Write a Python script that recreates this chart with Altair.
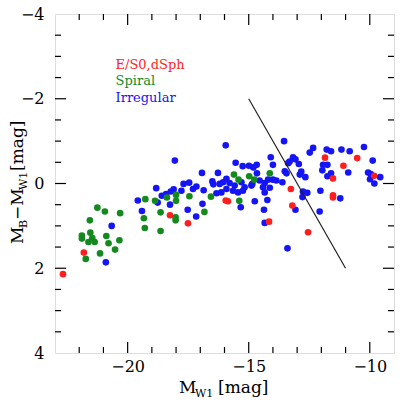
import altair as alt
import pandas as pd

# ---- data ----
red_x = [-22.67, -21.81, -18.25, -17.51, -15.95, -15.86, -14.16, -13.26, -13.20, -12.55,
         -11.85, -10.52, -11.09, -11.52, -9.82, -11.52, -11.52]
red_y = [2.14, 1.63, 0.75, 0.94, 0.40, 0.42, 0.90, 0.13, 0.52, 1.15,
         -0.61, -0.60, -0.42, -0.12, -0.18, 0.28, 0.33]

green_x = [-21.25, -20.94, -20.31, -21.56, -21.89, -21.89, -21.54, -21.62, -21.46, -21.36,
           -20.88, -20.79, -20.34, -20.52, -21.14, -21.73, -19.27, -18.87, -18.38, -18.00,
           -18.00, -17.45, -19.33, -19.29, -18.64, -18.02, -18.02, -18.64, -16.56, -16.83,
           -15.61, -15.42, -14.98, -14.77, -14.13, -15.39]
green_y = [0.57, 0.66, 0.70, 0.87, 1.23, 1.30, 1.16, 1.38, 1.29, 1.38,
           1.24, 1.41, 1.34, 1.56, 1.65, 1.78, 0.37, 0.41, 0.33, 0.27,
           0.41, 0.30, 0.82, 1.05, 0.68, 0.80, 0.87, 1.12, 0.31, 0.67,
           -0.21, -0.09, -0.17, -0.09, -0.24, 0.41]

blue_x = [-19.58, -20.66, -20.90, -18.05, -16.93, -16.27, -18.82, -19.41, -18.76, -18.59,
          -18.41, -18.22, -18.10, -18.25, -17.69, -17.46, -17.16, -17.30, -17.78, -16.86,
          -16.50, -16.46, -16.33, -17.52, -16.91, -17.17, -15.95, -15.54, -15.25, -14.99,
          -14.81, -14.67, -14.09, -14.00, -15.92, -16.06, -15.79, -16.20, -15.58, -15.30,
          -15.17, -15.92, -15.65, -15.44, -16.13, -15.24, -14.89, -15.33, -14.75, -13.54,
          -12.34, -12.48, -13.17, -13.07, -13.31, -13.37, -12.93, -13.51, -13.44, -12.83,
          -12.89, -12.66, -14.66, -14.55, -14.34, -14.41, -14.20, -14.00, -13.86, -13.61,
          -14.13, -14.34, -14.85, -12.76, -12.58, -12.78, -14.23, -13.07, -14.37, -14.34,
          -13.40, -10.24, -11.78, -11.60, -11.17, -10.83, -9.88, -11.93, -11.75, -11.96,
          -11.60, -10.89, -11.75, -10.07, -9.96, -9.57, -9.99, -9.81, -12.04, -11.22,
          -12.07]
blue_y = [0.40, 1.00, 1.86, -0.54, -0.25, -0.25, 0.11, 0.65, 0.45, 0.29,
          0.25, 0.19, 0.14, 0.50, 0.01, -0.02, 0.07, 0.13, 0.17, 0.16,
          -0.05, 0.02, 0.23, 0.62, 0.48, 0.78, -0.90, -0.49, -0.41, -0.42,
          -0.38, -0.44, -0.62, -0.44, -0.11, -0.03, -0.01, 0.01, 0.05, -0.03,
          0.09, 0.13, 0.17, 0.21, 0.21, 0.17, 0.05, 0.56, 0.42, -1.00,
          -0.84, -0.73, -0.62, -0.57, -0.52, -0.48, -0.46, -0.29, -0.24, -0.28,
          -0.21, -0.15, -0.24, -0.07, -0.01, 0.09, -0.09, -0.09, -0.07, -0.03,
          0.10, 0.21, 0.01, 0.19, 0.22, 0.32, 0.39, 0.62, 0.62, 0.93,
          1.53, -0.86, -0.80, -0.76, -0.80, -0.76, -0.54, -0.44, -0.44, -0.31,
          -0.24, -0.26, -0.17, -0.26, -0.22, -0.15, -0.10, 0.00, 0.17, 0.35,
          0.66]

line_x = [-15.0, -11.0]
line_y = [-2.0, 2.0]

legend_labels = ["E/S0,dSph", "Spiral", "Irregular"]
legend_x = [-20.5, -20.5, -20.5]
legend_y = [-2.70, -2.32, -1.93]

x_major = [-20, -15, -10]
x_minor = [v for v in range(-22, -9) if v % 5 != 0]
y_major = [-2, 0, 2]
y_minor = [v / 2 for v in range(-7, 8) if v % 4 != 0]

RED, GREEN, BLUE = "#ff1e1e", "#148a1e", "#1414f5"
W, H = 339, 339
FONT = "DejaVu Serif"

pts = pd.DataFrame(
    {"x": blue_x + green_x + red_x,
     "y": blue_y + green_y + red_y,
     "cls": ["Irregular"] * len(blue_x) + ["Spiral"] * len(green_x) + ["E/S0,dSph"] * len(red_x),
     "order": [0] * len(blue_x) + [1] * len(green_x) + [2] * len(red_x)}
)

xs = alt.Scale(domain=[-23, -9], nice=False, zero=False)
ys = alt.Scale(domain=[-4, 4], nice=False, zero=False, reverse=True)
cscale = alt.Scale(domain=["E/S0,dSph", "Spiral", "Irregular"], range=[RED, GREEN, BLUE])

xaxis = alt.Axis(values=x_major, ticks=False, domain=False, grid=False, title=None,
                 labelFont=FONT, labelFontSize=16, labelColor="black", labelPadding=5,
                 format="d")
yaxis = alt.Axis(values=[-4, -2, 0, 2, 4], ticks=False, domain=False, grid=False, title=None,
                 labelFont=FONT, labelFontSize=16, labelColor="black", labelPadding=11,
                 format="d")

points = alt.Chart(pts).mark_circle(size=44, opacity=1).encode(
    x=alt.X("x:Q", scale=xs, axis=xaxis),
    y=alt.Y("y:Q", scale=ys, axis=yaxis),
    color=alt.Color("cls:N", scale=cscale, legend=None),
    order="order:Q",
)

line = alt.Chart(pd.DataFrame({"x": line_x, "y": line_y})).mark_line(
    color="#222222", strokeWidth=1.2
).encode(x=alt.X("x:Q", scale=xs), y=alt.Y("y:Q", scale=ys))

leg = alt.Chart(pd.DataFrame({"t": legend_labels, "x": legend_x, "y": legend_y})).mark_text(
    font=FONT, fontSize=13, align="left", baseline="alphabetic"
).encode(
    x=alt.X("x:Q", scale=xs), y=alt.Y("y:Q", scale=ys), text="t:N",
    color=alt.Color("t:N", scale=cscale, legend=None),
)

def xticks(vals, length):
    d = pd.DataFrame({"v": vals})
    base = alt.Chart(d).mark_rule(color="black", strokeWidth=1.2)
    top = base.encode(x=alt.X("v:Q", scale=xs), y=alt.value(0), y2=alt.value(length))
    bot = base.encode(x=alt.X("v:Q", scale=xs), y=alt.value(H), y2=alt.value(H - length))
    return top + bot

def yticks(vals, length):
    d = pd.DataFrame({"v": vals})
    base = alt.Chart(d).mark_rule(color="black", strokeWidth=1.2)
    left = base.encode(y=alt.Y("v:Q", scale=ys), x=alt.value(0), x2=alt.value(length))
    right = base.encode(y=alt.Y("v:Q", scale=ys), x=alt.value(W), x2=alt.value(W - length))
    return left + right

ticks = xticks(x_major, 11) + xticks(x_minor, 6) + yticks(y_major, 11) + yticks(y_minor, 6)

def txt(t, x, y, size, angle=0):
    return alt.Chart(pd.DataFrame({"t": [t]})).mark_text(
        font=FONT, fontSize=size, align="left", baseline="alphabetic", angle=angle, color="black"
    ).encode(text="t:N", x=alt.value(x), y=alt.value(y))

# x-axis title  M_W1 [mag]
xt = (txt("M", 124, 379, 17) + txt("W1", 140, 383, 11) + txt("[mag]", 163, 379, 17))
# y-axis title  M_B - M_W1 [mag] (rotated)
yt = (txt("M", -32, 230, 17, 270) + txt("B", -28, 214, 11, 270)
      + txt("\u2212M", -32, 206, 17, 270) + txt("W1", -28, 176, 11, 270)
      + txt("[mag]", -32, 157, 17, 270))

chart = alt.layer(points, line, leg, ticks, xt, yt).properties(
    width=W, height=H,
    padding={"left": 55, "top": 14, "right": 6, "bottom": 49},
    autosize=alt.AutoSizeParams(type="none"),
).configure_view(stroke="black", strokeWidth=1.5).configure(background="white")

chart.save("out.html", embed_options={"renderer": "svg", "actions": False})
